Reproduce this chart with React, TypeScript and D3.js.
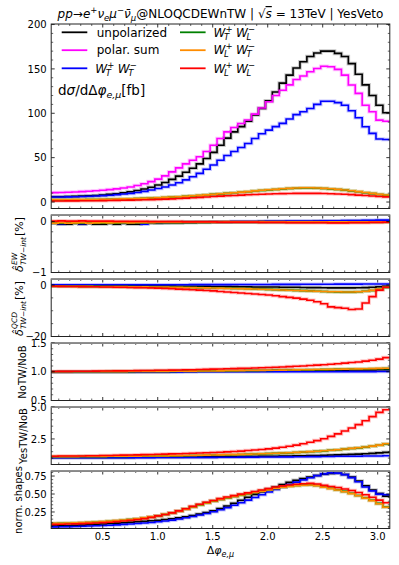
import React from 'react';
import * as d3 from 'd3';

const NB = 50;
const binCenters = d3.range(NB).map((i) => ((i + 0.5) * Math.PI) / NB);

// ---------- main panel: dσ/dΔφ [fb]
const mainUnpol = [5.8,5.9,6.0,6.2,6.4,6.6,6.9,7.3,7.9,8.6,9.4,10.4,11.6,13.0,14.7,16.7,19.1,22.0,25.5,29.2,33.5,38.0,43.0,49.0,56.0,64.0,72.0,79.0,85.0,91.0,98.0,105.5,114,124,134,143,151,158,164,168,170,170,167.5,164,156,144,132,120,109,100.6];
const mainPol = [10.5,10.6,10.8,11.0,11.3,11.7,12.1,12.7,13.3,14.0,14.8,15.8,17.0,18.6,20.6,23.0,25.8,29.5,34.0,38.5,43.0,47.0,51.0,57.0,64.0,71.5,79.0,84.0,88.5,92.5,99.0,106,113,120,126,132,138,142,146.8,150.5,153,152.4,149.5,143,131.8,122.4,109,101.7,92.3,91];
const mainTT = [5.6,5.6,5.7,5.8,6.0,6.2,6.5,6.8,7.2,7.7,8.3,9.0,9.8,10.8,12.0,13.5,15.2,17.0,19.2,21.8,25.0,28.5,32.3,37.0,41.7,47.0,52.5,57.0,61.5,66.0,71.5,77.0,81.0,85.0,88.6,93.5,98.5,101.7,105.4,110,113.6,113.6,112,109,102.8,95,84.8,77.3,71,70.5];
const mainTL = [2.4,2.4,2.45,2.5,2.55,2.6,2.7,2.8,2.9,3.05,3.2,3.4,3.6,3.85,4.1,4.4,4.75,5.1,5.5,5.9,6.4,6.9,7.4,8.0,8.6,9.2,9.8,10.4,11.0,11.6,12.4,13.0,13.6,14.1,14.7,15.2,15.6,15.8,15.8,15.6,15.2,14.7,14.1,13.4,12.5,11.5,10.5,9.5,8.5,7.7];
const mainLT = [2.5,2.5,2.55,2.6,2.65,2.7,2.8,2.9,3.0,3.15,3.3,3.5,3.7,3.95,4.2,4.5,4.85,5.2,5.6,6.0,6.5,7.0,7.5,8.1,8.7,9.3,9.9,10.5,11.1,11.7,12.6,13.2,13.8,14.3,14.9,15.4,15.8,16.0,16.0,15.8,15.4,14.9,14.3,13.6,12.7,11.7,10.7,9.7,8.7,7.9];
const mainLL = [1.2,1.2,1.22,1.25,1.3,1.35,1.42,1.5,1.6,1.7,1.82,1.95,2.1,2.28,2.48,2.7,2.95,3.25,3.6,3.95,4.35,4.8,5.25,5.7,6.15,6.6,7.0,7.4,7.8,8.15,8.45,8.75,9.0,9.25,9.45,9.6,9.72,9.8,9.8,9.72,9.55,9.35,9.05,8.7,8.3,7.8,7.3,6.8,6.3,5.8];

// ---------- EW interference [%]
const ewUnpol = [-0.05,-0.02,-0.05,-0.05,-0.02,-0.05,-0.03,-0.05,-0.05,-0.02,-0.05,-0.02,-0.05,-0.05,-0.03,-0.02,-0.03,-0.02,-0.02,-0.02,-0.015,-0.015,-0.01,-0.01,-0.01,-0.01,-0.01,-0.005,-0.005,-0.005,-0.005,0,0,0,0,0,0,0,0,0.005,0.005,0.005,0.005,0.005,0.01,0.01,0.01,0.01,0.01,0.01];
const ewTT = [-0.03,-0.03,-0.04,-0.03,-0.03,-0.04,-0.03,-0.03,-0.03,-0.03,-0.03,-0.03,-0.03,-0.03,-0.05,-0.02,-0.02,-0.02,-0.015,-0.015,-0.01,-0.01,-0.01,-0.01,-0.005,-0.005,-0.005,0,0,0,0,0,0.005,0.005,0.005,0.01,0.01,0.01,0.01,0.01,0.015,0.015,0.015,0.02,0.02,0.02,0.025,0.025,0.03,0.03];
const ewTL = [-0.03,-0.03,-0.03,-0.03,-0.03,-0.03,-0.03,-0.03,-0.03,-0.03,-0.03,-0.025,-0.025,-0.025,-0.025,-0.02,-0.02,-0.02,-0.02,-0.02,-0.015,-0.015,-0.015,-0.015,-0.01,-0.01,-0.01,-0.01,-0.01,-0.01,-0.01,-0.01,-0.01,-0.01,-0.01,-0.01,-0.01,-0.01,-0.01,-0.01,-0.01,-0.01,-0.01,-0.01,-0.01,-0.01,-0.01,-0.01,-0.01,-0.01];
const ewLT = [-0.025,-0.03,-0.02,-0.03,-0.025,-0.02,-0.03,-0.025,-0.02,-0.025,-0.02,-0.02,-0.025,-0.02,-0.02,-0.02,-0.015,-0.015,-0.015,-0.015,-0.01,-0.01,-0.01,-0.01,-0.01,-0.01,-0.005,-0.005,-0.005,-0.005,-0.005,-0.005,-0.005,-0.005,-0.005,-0.005,-0.005,-0.005,-0.005,-0.005,-0.005,-0.005,-0.005,-0.005,-0.005,-0.005,-0.005,-0.005,-0.005,-0.005];
const ewLL = [0.01,0.01,0.015,0.01,0.01,0.015,0.01,0.01,0.01,0.01,0.005,0.005,0.005,0.005,0.005,0,0,0,0,0,-0.005,-0.005,-0.005,-0.005,-0.005,-0.01,-0.01,-0.01,-0.01,-0.01,-0.01,-0.015,-0.015,-0.015,-0.015,-0.02,-0.02,-0.02,-0.02,-0.02,-0.02,-0.025,-0.025,-0.025,-0.02,-0.02,-0.02,-0.015,-0.015,-0.01];

// ---------- QCD interference [%]
const qcdUnpol = [-0.3,-0.3,-0.3,-0.3,-0.3,-0.3,-0.3,-0.3,-0.35,-0.35,-0.35,-0.35,-0.4,-0.4,-0.4,-0.4,-0.45,-0.45,-0.45,-0.5,-0.5,-0.5,-0.55,-0.55,-0.6,-0.6,-0.65,-0.65,-0.7,-0.7,-0.75,-0.75,-0.8,-0.8,-0.85,-0.9,-0.9,-0.95,-1.0,-1.0,-1.05,-1.1,-1.1,-1.1,-1.1,-1.05,-1.0,-0.9,-0.7,-0.5];
const qcdTT = [0.1,0.1,0.1,0.1,0.1,0.1,0.1,0.1,0.1,0.1,0.1,0.1,0.1,0.1,0.1,0.1,0.1,0.1,0.1,0.1,0.1,0.15,0.15,0.15,0.15,0.15,0.15,0.2,0.2,0.2,0.2,0.2,0.2,0.25,0.25,0.25,0.25,0.3,0.3,0.3,0.3,0.3,0.35,0.35,0.35,0.35,0.4,0.4,0.4,0.4];
const qcdTL = [-0.5,-0.5,-0.5,-0.5,-0.5,-0.55,-0.55,-0.55,-0.6,-0.6,-0.6,-0.65,-0.65,-0.7,-0.7,-0.7,-0.75,-0.8,-0.8,-0.85,-0.9,-0.95,-1.0,-1.05,-1.1,-1.15,-1.2,-1.3,-1.35,-1.4,-1.5,-1.6,-1.7,-1.8,-1.9,-2.0,-2.1,-2.2,-2.3,-2.4,-2.5,-2.6,-2.7,-2.75,-2.75,-2.65,-2.45,-2.15,-1.65,-0.95];
const qcdLT = [-0.5,-0.5,-0.5,-0.5,-0.55,-0.55,-0.55,-0.6,-0.6,-0.6,-0.65,-0.65,-0.7,-0.7,-0.7,-0.75,-0.75,-0.8,-0.85,-0.9,-0.95,-1.0,-1.05,-1.1,-1.15,-1.2,-1.3,-1.35,-1.4,-1.5,-1.55,-1.65,-1.75,-1.85,-1.95,-2.05,-2.15,-2.25,-2.35,-2.45,-2.55,-2.6,-2.65,-2.7,-2.7,-2.6,-2.4,-2.1,-1.6,-0.9];
const qcdLL = [-0.5,-0.5,-0.55,-0.6,-0.6,-0.65,-0.7,-0.7,-0.75,-0.8,-0.85,-0.9,-0.95,-1.0,-1.05,-1.1,-1.2,-1.3,-1.4,-1.6,-1.7,-1.85,-2.0,-2.15,-2.3,-2.5,-2.7,-2.9,-3.1,-3.3,-3.5,-3.7,-3.9,-4.2,-4.5,-4.8,-5.1,-5.5,-5.9,-6.5,-7.3,-8.5,-8.8,-9.0,-9.5,-9.3,-7.0,-4.5,-2.0,-0.9];

// ---------- NoTW / NoB
const noUnpol = [1.0,1.0,1.0,1.0,1.0,1.0,1.0,1.0,1.0,1.0,1.0,1.0,1.001,1.001,1.002,1.002,1.003,1.003,1.004,1.005,1.006,1.007,1.008,1.009,1.01,1.011,1.012,1.013,1.014,1.015,1.016,1.017,1.018,1.019,1.02,1.021,1.022,1.023,1.024,1.025,1.026,1.027,1.028,1.029,1.03,1.031,1.032,1.033,1.034,1.035];
const noTT = [0.998,0.998,0.998,0.998,0.998,0.998,0.998,0.998,0.998,0.998,0.998,0.998,0.998,0.998,0.998,0.998,0.998,0.998,0.998,0.998,0.999,0.999,0.999,0.999,0.999,0.999,0.999,0.999,0.999,0.999,1.0,1.0,1.0,1.0,1.0,1.0,1.0,1.0,1.001,1.001,1.001,1.001,1.002,1.002,1.002,1.003,1.003,1.003,1.004,1.004];
const noTL = [1.0,1.0,1.0,1.0,1.0,1.0,1.001,1.001,1.001,1.002,1.002,1.003,1.003,1.004,1.004,1.005,1.006,1.006,1.007,1.008,1.009,1.01,1.011,1.012,1.013,1.014,1.015,1.016,1.018,1.019,1.02,1.022,1.023,1.025,1.026,1.028,1.03,1.031,1.033,1.035,1.037,1.039,1.041,1.043,1.045,1.047,1.049,1.051,1.053,1.055];
const noLT = [1.0,1.0,1.0,1.0,1.0,1.001,1.001,1.001,1.002,1.002,1.003,1.003,1.004,1.004,1.005,1.006,1.006,1.007,1.008,1.009,1.01,1.011,1.012,1.013,1.014,1.015,1.017,1.018,1.019,1.021,1.022,1.024,1.025,1.027,1.029,1.03,1.032,1.034,1.036,1.038,1.04,1.042,1.044,1.046,1.048,1.05,1.052,1.055,1.058,1.06];
const noLL = [1.005,1.005,1.006,1.007,1.008,1.009,1.01,1.011,1.012,1.013,1.015,1.016,1.018,1.019,1.021,1.023,1.025,1.027,1.029,1.031,1.034,1.036,1.039,1.042,1.045,1.048,1.051,1.054,1.058,1.062,1.066,1.07,1.074,1.078,1.083,1.09,1.095,1.1,1.108,1.115,1.122,1.13,1.14,1.15,1.16,1.17,1.185,1.2,1.22,1.245];

// ---------- YesTW / NoB
const yesUnpol = [1.05,1.05,1.05,1.05,1.05,1.05,1.05,1.05,1.06,1.06,1.06,1.06,1.06,1.07,1.07,1.07,1.07,1.08,1.08,1.08,1.09,1.09,1.09,1.1,1.1,1.11,1.11,1.12,1.12,1.13,1.13,1.14,1.15,1.15,1.16,1.17,1.18,1.19,1.2,1.21,1.22,1.24,1.25,1.27,1.29,1.31,1.34,1.37,1.41,1.45];
const yesTT = [1.03,1.03,1.03,1.03,1.03,1.03,1.03,1.03,1.03,1.04,1.04,1.04,1.04,1.04,1.04,1.04,1.05,1.05,1.05,1.05,1.05,1.06,1.06,1.06,1.06,1.07,1.07,1.07,1.08,1.08,1.08,1.09,1.09,1.09,1.1,1.1,1.11,1.11,1.12,1.12,1.13,1.13,1.14,1.14,1.15,1.15,1.16,1.16,1.17,1.18];
const yesTL = [1.11,1.11,1.11,1.11,1.11,1.12,1.12,1.12,1.12,1.13,1.13,1.13,1.14,1.14,1.15,1.15,1.16,1.16,1.17,1.18,1.19,1.2,1.21,1.22,1.23,1.24,1.25,1.26,1.28,1.29,1.31,1.33,1.35,1.37,1.39,1.41,1.44,1.47,1.5,1.53,1.57,1.61,1.65,1.7,1.75,1.8,1.86,1.93,2.01,2.1];
const yesLT = [1.12,1.12,1.12,1.12,1.12,1.13,1.13,1.13,1.13,1.14,1.14,1.14,1.15,1.15,1.16,1.16,1.17,1.17,1.18,1.19,1.2,1.21,1.22,1.23,1.24,1.25,1.26,1.27,1.29,1.3,1.32,1.34,1.36,1.38,1.4,1.42,1.45,1.48,1.51,1.54,1.58,1.62,1.66,1.71,1.76,1.81,1.87,1.94,2.02,2.12];
const yesLL = [1.15,1.15,1.16,1.16,1.17,1.17,1.18,1.19,1.2,1.21,1.22,1.23,1.24,1.25,1.27,1.28,1.3,1.31,1.33,1.34,1.36,1.38,1.4,1.42,1.44,1.46,1.49,1.52,1.55,1.59,1.63,1.67,1.72,1.78,1.85,1.93,2.02,2.12,2.24,2.37,2.52,2.7,2.9,3.12,3.36,3.62,3.92,4.25,4.58,4.78];

// ---------- normalised shapes
const normUnpol = [0.05,0.053,0.056,0.059,0.063,0.067,0.072,0.077,0.083,0.089,0.095,0.101,0.108,0.114,0.12,0.127,0.135,0.145,0.155,0.168,0.182,0.2,0.22,0.243,0.268,0.298,0.333,0.372,0.413,0.455,0.495,0.533,0.567,0.598,0.63,0.662,0.69,0.715,0.737,0.757,0.775,0.787,0.788,0.772,0.735,0.68,0.615,0.555,0.505,0.47];
const normTT = [0.04,0.042,0.044,0.046,0.048,0.051,0.054,0.058,0.062,0.066,0.071,0.077,0.083,0.089,0.096,0.104,0.113,0.124,0.137,0.152,0.169,0.187,0.207,0.229,0.253,0.28,0.31,0.343,0.378,0.415,0.452,0.49,0.527,0.563,0.598,0.632,0.665,0.697,0.727,0.756,0.78,0.794,0.79,0.77,0.728,0.67,0.598,0.543,0.498,0.49];
const normTL = [0.088,0.09,0.092,0.094,0.097,0.1,0.104,0.109,0.114,0.12,0.127,0.135,0.144,0.154,0.166,0.18,0.196,0.214,0.236,0.261,0.289,0.319,0.349,0.376,0.401,0.424,0.446,0.466,0.485,0.502,0.52,0.539,0.557,0.577,0.594,0.607,0.618,0.625,0.628,0.619,0.6,0.58,0.56,0.537,0.51,0.48,0.448,0.413,0.37,0.32];
const normLT = [0.09,0.092,0.094,0.096,0.099,0.102,0.106,0.111,0.116,0.122,0.129,0.137,0.146,0.156,0.168,0.182,0.198,0.216,0.237,0.262,0.29,0.32,0.35,0.377,0.402,0.425,0.447,0.467,0.486,0.503,0.521,0.54,0.558,0.578,0.594,0.606,0.616,0.622,0.625,0.615,0.595,0.575,0.555,0.532,0.505,0.475,0.443,0.408,0.365,0.315];
const normLL = [0.075,0.077,0.079,0.082,0.085,0.088,0.092,0.097,0.102,0.108,0.116,0.125,0.133,0.143,0.157,0.175,0.195,0.215,0.238,0.265,0.295,0.328,0.358,0.385,0.41,0.435,0.458,0.478,0.498,0.515,0.535,0.555,0.575,0.598,0.613,0.625,0.635,0.643,0.648,0.64,0.62,0.605,0.59,0.57,0.548,0.52,0.49,0.455,0.415,0.378];

// ---------- tick labels
const xTickValues = [0.5, 1.0, 1.5, 2.0, 2.5, 3.0];
const xTickLabels = ['0.5', '1.0', '1.5', '2.0', '2.5', '3.0'];

const COL = {
  unpol: '#000000',
  pol: '#ff00ff',
  TT: '#0000ff',
  TL: '#008000',
  LT: '#ff8c00',
  LL: '#ff0000',
};

const FONT = 'DejaVu Sans, Liberation Sans, sans-serif';
const W = 399;
const H = 565;
const XL = 51.2;
const XR = 389.8;

const x = d3.scaleLinear().domain([binCenters[0], binCenters[NB - 1]]).range([XL, XR]);

type Panel = {
  id: string;
  top: number;
  bottom: number;
  domain: [number, number];
  major: number[];
  majorLabels: string[];
  minorStep: number;
  series: { data: number[]; color: string }[];
};

const panels: Panel[] = [
  {
    id: 'main', top: 24, bottom: 208.5, domain: [-7.3, 200.6],
    major: [0, 50, 100, 150, 200], majorLabels: ['0', '50', '100', '150', '200'], minorStep: 10,
    series: [
      { data: mainUnpol, color: COL.unpol }, { data: mainPol, color: COL.pol }, { data: mainTT, color: COL.TT },
      { data: mainTL, color: COL.TL }, { data: mainLT, color: COL.LT }, { data: mainLL, color: COL.LL },
    ],
  },
  {
    id: 'ew', top: 215, bottom: 272.5, domain: [-1, 0.13],
    major: [0, -1], majorLabels: ['0', '\u22121'], minorStep: 0.2,
    series: [
      { data: ewUnpol, color: COL.unpol }, { data: ewTT, color: COL.TT },
      { data: ewTL, color: COL.TL }, { data: ewLT, color: COL.LT }, { data: ewLL, color: COL.LL },
    ],
  },
  {
    id: 'qcd', top: 279, bottom: 336.5, domain: [-20, 2.33],
    major: [0, -20], majorLabels: ['0', '\u221220'], minorStep: 5,
    series: [
      { data: qcdUnpol, color: COL.unpol }, { data: qcdTT, color: COL.TT },
      { data: qcdTL, color: COL.TL }, { data: qcdLT, color: COL.LT }, { data: qcdLL, color: COL.LL },
    ],
  },
  {
    id: 'no', top: 343, bottom: 400.5, domain: [0.5, 1.5],
    major: [0.5, 1.0, 1.5], majorLabels: ['0.5', '1.0', '1.5'], minorStep: 0.1,
    series: [
      { data: noUnpol, color: COL.unpol }, { data: noTT, color: COL.TT },
      { data: noTL, color: COL.TL }, { data: noLT, color: COL.LT }, { data: noLL, color: COL.LL },
    ],
  },
  {
    id: 'yes', top: 407, bottom: 464.5, domain: [0.5, 5.0],
    major: [2.5, 5.0], majorLabels: ['2.5', '5.0'], minorStep: 0.5,
    series: [
      { data: yesUnpol, color: COL.unpol }, { data: yesTT, color: COL.TT },
      { data: yesTL, color: COL.TL }, { data: yesLT, color: COL.LT }, { data: yesLL, color: COL.LL },
    ],
  },
  {
    id: 'norm', top: 471, bottom: 528.5, domain: [0.02, 0.82],
    major: [0.25, 0.5, 0.75], majorLabels: ['0.25', '0.50', '0.75'], minorStep: 0.05,
    series: [
      { data: normUnpol, color: COL.unpol }, { data: normTT, color: COL.TT },
      { data: normTL, color: COL.TL }, { data: normLT, color: COL.LT }, { data: normLL, color: COL.LL },
    ],
  },
];

const xMinor = d3.range(1, 32).map((k) => k / 10).filter((v) => Math.abs(v * 2 - Math.round(v * 2)) > 1e-6);

function PanelView({ p }: { p: Panel }) {
  const y = d3.scaleLinear().domain(p.domain).range([p.bottom, p.top]);
  const line = d3
    .line<number>()
    .x((_, i) => x(binCenters[i]))
    .y((d) => y(d))
    .curve(d3.curveStepBefore);
  const [lo, hi] = p.domain;
  const minor: number[] = [];
  const start = Math.ceil(lo / p.minorStep - 1e-9);
  const end = Math.floor(hi / p.minorStep + 1e-9);
  for (let k = start; k <= end; k++) {
    const v = k * p.minorStep;
    if (!p.major.some((m) => Math.abs(m - v) < 1e-9)) minor.push(v);
  }
  const clipId = `clip-${p.id}`;
  const isBottom = p.id === 'norm';
  const isMain = p.id === 'main';
  return (
    <g>
      <defs>
        <clipPath id={clipId}>
          <rect x={XL} y={p.top} width={XR - XL} height={p.bottom - p.top} />
        </clipPath>
      </defs>
      <g clipPath={`url(#${clipId})`}>
        {p.series.map((s, i) => (
          <path key={'h' + i} d={line(s.data) || ''} fill="none" stroke={s.color} strokeOpacity={0.22} strokeWidth={3.6} />
        ))}
        {p.series.map((s, i) => (
          <path key={'l' + i} d={line(s.data) || ''} fill="none" stroke={s.color} strokeWidth={1.6} />
        ))}
      </g>
      {/* y ticks */}
      {p.major.map((v, i) => (
        <g key={'ym' + i}>
          <line x1={XL} x2={XL + 3.5} y1={y(v)} y2={y(v)} stroke="#000" strokeWidth={0.8} />
          <line x1={XR} x2={XR - 3.5} y1={y(v)} y2={y(v)} stroke="#000" strokeWidth={0.8} />
          <text x={XL - 4.5} y={y(v)} dy="0.36em" textAnchor="end" fontSize={10} fontFamily={FONT} fill="#000">
            {p.majorLabels[i]}
          </text>
        </g>
      ))}
      {minor.map((v, i) => (
        <g key={'yn' + i}>
          <line x1={XL} x2={XL + 2} y1={y(v)} y2={y(v)} stroke="#000" strokeWidth={0.6} />
          <line x1={XR} x2={XR - 2} y1={y(v)} y2={y(v)} stroke="#000" strokeWidth={0.6} />
        </g>
      ))}
      {/* x ticks */}
      {xTickValues.map((v, i) => (
        <g key={'xm' + i}>
          <line x1={x(v)} x2={x(v)} y1={p.bottom} y2={p.bottom - 3.5} stroke="#000" strokeWidth={0.8} />
          <line x1={x(v)} x2={x(v)} y1={p.top} y2={p.top + 3.5} stroke="#000" strokeWidth={0.8} />
          {isBottom && (
            <text x={x(v)} y={p.bottom + 11.5} textAnchor="middle" fontSize={10} fontFamily={FONT} fill="#000">
              {xTickLabels[i]}
            </text>
          )}
        </g>
      ))}
      {xMinor.map((v, i) => (
        <g key={'xn' + i}>
          <line x1={x(v)} x2={x(v)} y1={p.bottom} y2={p.bottom - 2} stroke="#000" strokeWidth={0.6} />
          <line x1={x(v)} x2={x(v)} y1={p.top} y2={p.top + 2} stroke="#000" strokeWidth={0.6} />
        </g>
      ))}
      <rect x={XL} y={p.top} width={XR - XL} height={p.bottom - p.top} fill="none" stroke="#222" strokeWidth={1} />
      {!isMain && (
        <line x1={XL} x2={XR} y1={p.top + 0.5} y2={p.top + 0.5} stroke="#888" strokeWidth={1.2} />
      )}
    </g>
  );
}

function WLabel({ x0, y0, a, b, c, d }: { x0: number; y0: number; a: string; b: string; c: string; d: string }) {
  // W_a^b W_c^d
  const fs = 12;
  const ss = 8.5;
  return (
    <g fontFamily={FONT} fill="#000">
      <text x={x0} y={y0} fontSize={fs} fontStyle="italic">W</text>
      <text x={x0 + 12} y={y0 - 5} fontSize={ss}>{b}</text>
      <text x={x0 + 10.5} y={y0 + 3} fontSize={ss} fontStyle="italic">{a}</text>
      <text x={x0 + 22.5} y={y0} fontSize={fs} fontStyle="italic">W</text>
      <text x={x0 + 34.5} y={y0 - 5} fontSize={ss}>{d}</text>
      <text x={x0 + 33} y={y0 + 3} fontSize={ss} fontStyle="italic">{c}</text>
    </g>
  );
}

const legendRows = [
  { color: COL.unpol, col: 0, row: 0, text: 'unpolarized' },
  { color: COL.pol, col: 0, row: 1, text: 'polar. sum' },
  { color: COL.TT, col: 0, row: 2, w: ['T', '+', 'T', '\u2212'] },
  { color: COL.TL, col: 1, row: 0, w: ['T', '+', 'L', '\u2212'] },
  { color: COL.LT, col: 1, row: 1, w: ['L', '+', 'T', '\u2212'] },
  { color: COL.LL, col: 1, row: 2, w: ['L', '+', 'L', '\u2212'] },
];

function Legend() {
  const colX = [61.7, 180];
  const rowY = [32.3, 50.2, 68.3];
  return (
    <g>
      {legendRows.map((r, i) => {
        const lx = colX[r.col];
        const ly = rowY[r.row];
        return (
          <g key={i}>
            <line x1={lx} x2={lx + 25.6} y1={ly} y2={ly} stroke={r.color} strokeWidth={1.8} />
            {r.text ? (
              <text x={lx + 35} y={ly + 4.2} fontSize={12} fontFamily={FONT} fill="#000">{r.text}</text>
            ) : (
              <WLabel x0={lx + 33.5} y0={ly + 4.2} a={r.w![0]} b={r.w![1]} c={r.w![2]} d={r.w![3]} />
            )}
          </g>
        );
      })}
    </g>
  );
}

function DeltaLabel({ cx, cy, sup }: { cx: number; cy: number; sup: string }) {
  // rotated: δ̂^{sup}_{TW−int}[%]
  return (
    <g transform={`translate(${cx},${cy}) rotate(-90)`} fontFamily={FONT} fill="#000">
      <text x={-28} y={0} fontSize={11} fontStyle="italic">{'\u03b4\u0302'}</text>
      <text x={-21} y={-6} fontSize={7.5} fontStyle="italic">{sup}</text>
      <text x={-21} y={3} fontSize={7.5} fontStyle="italic">{'TW\u2212int'}</text>
      <text x={8} y={0} fontSize={11}>[%]</text>
    </g>
  );
}

export default function App() {
  return (
    <svg width={W} height={H} viewBox={`0 0 ${W} ${H}`} style={{ position: 'absolute', left: 0, top: 0, background: '#fff' }}>
      <rect x={0} y={0} width={W} height={H} fill="#fff" />
      {/* title */}
      <text x={220.5} y={18} textAnchor="middle" fontSize={12} fontFamily={FONT} fill="#000">
        <tspan fontStyle="italic">pp</tspan>
        <tspan>{'\u2192'}</tspan>
        <tspan fontStyle="italic">e</tspan>
        <tspan fontSize={8.5} dy={-5}>+</tspan>
        <tspan fontStyle="italic" dy={5}>{'\u03bd'}</tspan>
        <tspan fontSize={8.5} fontStyle="italic" dy={3}>e</tspan>
        <tspan fontStyle="italic" dy={-3}>{'\u03bc'}</tspan>
        <tspan fontSize={8.5} dy={-5}>{'\u2212'}</tspan>
        <tspan fontStyle="italic" dy={5}>{'\u03bd\u0304'}</tspan>
        <tspan fontSize={8.5} fontStyle="italic" dy={3}>{'\u03bc'}</tspan>
        <tspan dy={-3}>{'@NLOQCDEWnTW | \u221a'}</tspan>
        <tspan fontStyle="italic" textDecoration="overline">s</tspan>
        <tspan>{' = 13TeV | YesVeto'}</tspan>
      </text>

      {panels.map((p) => (
        <PanelView key={p.id} p={p} />
      ))}

      <Legend />

      {/* main panel quantity */}
      <text x={58} y={95} fontSize={13.5} fontFamily={FONT} fill="#000">
        <tspan>d</tspan>
        <tspan fontStyle="italic">{'\u03c3'}</tspan>
        <tspan>{'/d\u0394'}</tspan>
        <tspan fontStyle="italic">{'\u03c6'}</tspan>
        <tspan fontSize={9.5} fontStyle="italic" dy={3}>{'e,\u03bc'}</tspan>
        <tspan dy={-3}>[fb]</tspan>
      </text>

      {/* y labels of ratio panels */}
      <DeltaLabel cx={23} cy={244} sup="EW" />
      <DeltaLabel cx={23} cy={308} sup="QCD" />
      <text transform="translate(25.5,372) rotate(-90)" textAnchor="middle" fontSize={10} fontFamily={FONT} fill="#000">NoTW/NoB</text>
      <text transform="translate(27,436) rotate(-90)" textAnchor="middle" fontSize={10} fontFamily={FONT} fill="#000">YesTW/NoB</text>
      <text transform="translate(21.5,500) rotate(-90)" textAnchor="middle" fontSize={10} fontFamily={FONT} fill="#000">norm. shapes</text>

      {/* x label */}
      <text x={220.5} y={554} textAnchor="middle" fontSize={11} fontFamily={FONT} fill="#000">
        <tspan>{'\u0394'}</tspan>
        <tspan fontStyle="italic">{'\u03c6'}</tspan>
        <tspan fontSize={8} fontStyle="italic" dy={3}>{'e,\u03bc'}</tspan>
      </text>
    </svg>
  );
}
